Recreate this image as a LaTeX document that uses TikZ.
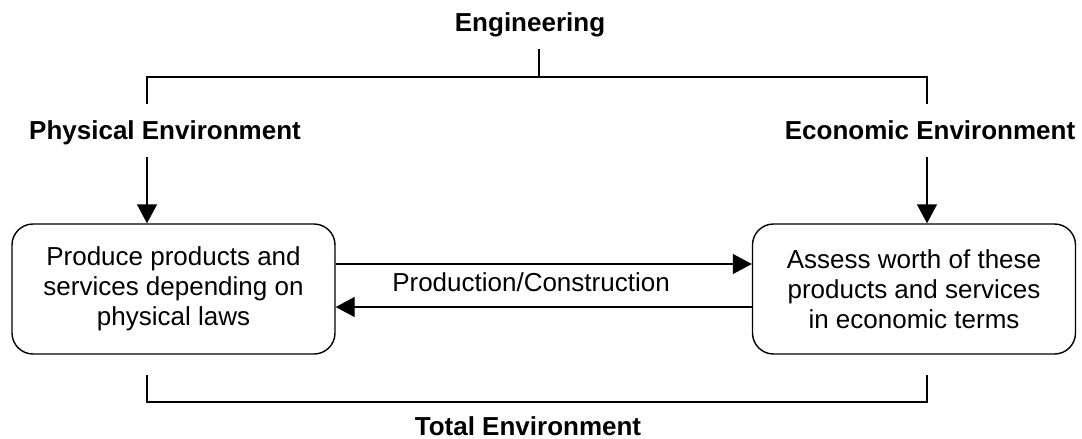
\documentclass[tikz,border=0pt]{standalone}
\usepackage{fontspec}
\setmainfont{Liberation Sans}
\usetikzlibrary{arrows.meta}
\begin{document}
\begin{tikzpicture}[x=1pt,y=1pt,
    line width=1.4pt,
    heading/.style={font=\fontsize{26}{30}\selectfont\bfseries, inner sep=0pt, anchor=base},
    plain/.style={font=\fontsize{26}{30}\selectfont, inner sep=0pt, anchor=base},
    procbox/.style={draw, rounded corners=21pt, minimum width=323pt, minimum height=130pt,
        align=center, font=\fontsize{26}{30}\selectfont, inner sep=0pt},
    arr/.style={-{Triangle[length=19pt,width=20pt]}}]
  \useasboundingbox (0,0) rectangle (1082,-439);

  % headings
  \node[heading] (eng)   at (530,-31)  {Engineering};
  \node[heading] (phys)  at (165,-139) {Physical Environment};
  \node[heading] (econ)  at (930,-139) {Economic Environment};
  \node[heading] (total) at (528,-435) {Total Environment};

  % the two activities
  \node[procbox] (prod)   at (173.5,-289) {Produce products and\\services depending on\\physical laws};
  \node[procbox] (assess) at (914,-289)   {Assess worth of these\\products and services\\in economic terms};

  % upper bracket under "Engineering"
  \coordinate (top) at (539,-49);
  \coordinate (hl)  at (147,-77);
  \coordinate (hr)  at (927,-77);
  \coordinate (dl)  at (147,-104);
  \coordinate (dr)  at (927,-104);
  \draw (top) -- (top |- hl);
  \draw (dl) -- (hl) -- (hr) -- (dr);

  % environments feeding the activities
  \coordinate (pa) at (147,-157);
  \coordinate (ea) at (927,-157);
  \draw[arr] (pa) -- (pa |- prod.north);
  \draw[arr] (ea) -- (ea |- assess.north);

  % exchange between the activities
  \draw[arr] ([yshift=25pt]prod.east) -- ([yshift=25pt]assess.west);
  \draw[arr] ([yshift=-18pt]assess.west) -- ([yshift=-18pt]prod.east);
  \node[plain] (pc) at (531,-291) {Production/Construction};

  % lower bracket above "Total Environment"
  \coordinate (bl) at (147,-375);
  \coordinate (br) at (927,-375);
  \draw (bl) -- ++(0,-27) -| (br);
\end{tikzpicture}
\end{document}
